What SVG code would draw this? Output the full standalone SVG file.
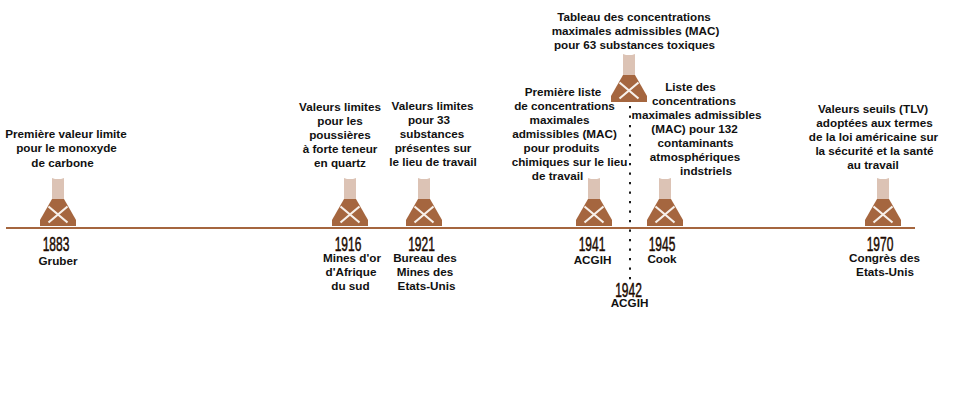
<svg xmlns="http://www.w3.org/2000/svg" width="956" height="400" viewBox="0 0 956 400">
<style>
text{font-family:"Liberation Sans",Arial,sans-serif;font-size:11.7px;font-weight:bold;fill:#111;text-anchor:middle}
.y{font-size:20px;font-weight:normal;fill:#200a00;stroke:#200a00;stroke-width:.5}
.axis{stroke:#a5663f;stroke-width:2;fill:none}
.dot{stroke:#1a1a1a;stroke-width:2;stroke-dasharray:2.2 7.3;fill:none}
</style>
<defs>
<g id="flask">
<path d="M-6 -49L-3 -48L3 -48L6 -49V-27H-6Z" fill="#dcc3b5"/>
<path d="M-6 -28H6L18 -7V-1H-18V-7Z" fill="#a5663f"/>
<path d="M-9.5 -20.5L9.5 -4.5M9.5 -20.5L-9.5 -4.5" stroke="#f7f0ea" stroke-width="2.2" fill="none"/>
</g>
</defs>
<g id="connectors">
<path class="axis" d="M6 228H915"/>
<path class="dot" d="M630 106V280"/>
</g>
<g id="n1883"><use href="#flask" x="58" y="227"/>
<text x="66" y="138">Première valeur limite</text><text x="66.5" y="152">pour le monoxyde</text><text x="62.5" y="167">de carbone</text>
<text class="y" transform="translate(56 251) scale(.6 1)">1883</text><text x="58" y="265">Gruber</text></g>
<g id="n1916"><use href="#flask" x="350" y="227"/>
<text x="340" y="111">Valeurs limites</text><text x="340" y="125">pour les</text><text x="340" y="139">poussières</text><text x="340" y="153">à forte teneur</text><text x="340" y="167">en quartz</text>
<text class="y" transform="translate(348 251) scale(.6 1)">1916</text><text x="352" y="262">Mines d'or</text><text x="351" y="276">d'Afrique</text><text x="350.5" y="290">du sud</text></g>
<g id="n1921"><use href="#flask" x="424" y="227"/>
<text x="432.5" y="110">Valeurs limites</text><text x="429" y="124">pour 33</text><text x="432" y="138">substances</text><text x="433" y="152">présentes sur</text><text x="433" y="166">le lieu de travail</text>
<text class="y" transform="translate(421.5 251) scale(.6 1)">1921</text><text x="425" y="262">Bureau des</text><text x="425" y="276">Mines des</text><text x="426.5" y="290">Etats-Unis</text></g>
<g id="n1941"><use href="#flask" x="594" y="227"/>
<text x="563" y="96">Première liste</text><text x="564.5" y="110">de concentrations</text><text x="559.5" y="124">maximales</text><text x="564.5" y="138">admissibles (MAC)</text><text x="561.5" y="152">pour produits</text><text x="569.5" y="166">chimiques sur le lieu</text><text x="557.5" y="180">de travail</text>
<text class="y" transform="translate(592 251) scale(.6 1)">1941</text><text x="592.5" y="264">ACGIH</text></g>
<g id="n1942"><use href="#flask" x="629" y="103"/>
<text x="634" y="21">Tableau des concentrations</text><text x="635.5" y="35">maximales admissibles (MAC)</text><text x="634.5" y="49">pour 63 substances toxiques</text>
<text class="y" transform="translate(628.5 297) scale(.6 1)">1942</text><text x="629.5" y="307">ACGIH</text></g>
<g id="n1945"><use href="#flask" x="665" y="227"/>
<text x="690.5" y="91">Liste des</text><text x="694" y="105">concentrations</text><text x="696.5" y="119">maximales admissibles</text><text x="694.5" y="133">(MAC) pour 132</text><text x="695.5" y="147">contaminants</text><text x="695" y="161">atmosphériques</text><text x="706" y="175">indstriels</text>
<text class="y" transform="translate(662 251) scale(.6 1)">1945</text><text x="662" y="263">Cook</text></g>
<g id="n1970"><use href="#flask" x="883" y="227"/>
<text x="873" y="113">Valeurs seuils (TLV)</text><text x="874.5" y="127">adoptées aux termes</text><text x="873.5" y="141">de la loi américaine sur</text><text x="874.5" y="155">la sécurité et la santé</text><text x="873" y="169">au travail</text>
<text class="y" transform="translate(880 251) scale(.6 1)">1970</text><text x="884.5" y="262">Congrès des</text><text x="885" y="276">Etats-Unis</text></g>
</svg>
